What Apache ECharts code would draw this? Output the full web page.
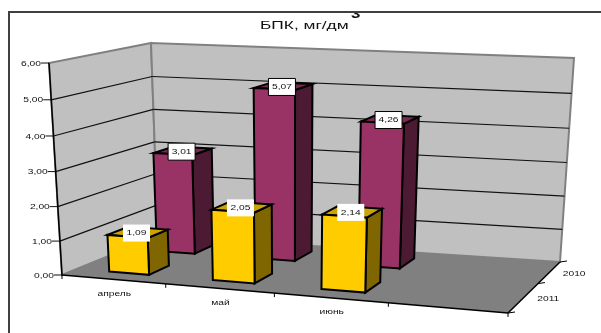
<!DOCTYPE html>
<html>
<head>
<meta charset="utf-8">
<style>html,body{margin:0;padding:0;background:#fff}#chart{width:601px;height:333px}</style>
<script src="https://cdn.jsdelivr.net/npm/echarts@6/dist/echarts.min.js"></script>
</head>
<body>
<div id="chart"></div>
<script>
// BOD by month for two years, drawn as a 3D column chart
const categories = ['апрель', 'май', 'июнь', ''];
const years = ['2011', '2010'];
const values2011 = [1.09, 2.05, 2.14];
const values2010 = [3.01, 5.07, 4.26];
const valueTicks = [0, 1, 2, 3, 4, 5, 6];
const titleText = 'БПК, мг/дм';
const titleSup = '3';

// Corners of the plot box: [x|y|depth] -> canvas position
const box = {
  fbl: [62, 275], fbr: [508, 313], bbl: [158, 236], bbr: [560, 262],
  ftl: [49, 63],  ftr: [521, 89],  btl: [151, 43],  btr: [574, 58]
};
// Perspective foreshortening along each axis
const warp = (u, k) => u / (1 + k * (1 - u));
const KX = 0.1, KY = 0.05, KZ = -0.267;
const mix = (a, b, t) => [a[0] + (b[0] - a[0]) * t, a[1] + (b[1] - a[1]) * t];

function project(u, w, z) {
  const a = warp(u, KX), b = warp(w, KY), c = warp(z, KZ);
  const bottom = mix(mix(box.fbl, box.fbr, a), mix(box.bbl, box.bbr, a), c);
  const top = mix(mix(box.ftl, box.ftr, a), mix(box.btl, box.btr, a), c);
  return mix(bottom, top, b);
}
// Reads the axis scales: the grid fills the canvas, so pixels normalise directly
function scaled(api, x, v) {
  const p = api.coord([x, v]);
  return [p[0] / api.getWidth(), 1 - p[1] / api.getHeight()];
}

const ROW = [{ z0: 0.12, z1: 0.31 }, { z0: 0.60, z1: 0.85 }];
const COLORS = [
  { front: '#FFCC00', side: '#806600', top: '#CCA300' },
  { front: '#993366', side: '#4D1A33', top: '#7A2952' }
];
const BAR_CENTRE = 0.515;
const BAR_HALF = 0.195;
const AXIS_FONT = '8px "Liberation Sans"';
const TEXT_STRETCH = 1.28;
const INK = '#000';

function poly(points, fill, stroke, lineWidth) {
  return {
    type: 'polygon',
    shape: { points },
    style: { fill, stroke: stroke || null, lineWidth: lineWidth || 0, lineJoin: 'miter' }
  };
}
function line(a, b, stroke, lineWidth) {
  return {
    type: 'line',
    shape: { x1: a[0], y1: a[1], x2: b[0], y2: b[1] },
    style: { stroke, lineWidth }
  };
}
function label(text, x, y, textAlign) {
  return {
    type: 'text',
    x, y,
    scaleX: TEXT_STRETCH,
    style: { text, textAlign, textVerticalAlign: 'middle', font: AXIS_FONT, fill: '#111' }
  };
}

// Walls, floor, gridlines, ticks and axis labels
function renderFrame(params, api) {
  const maxX = categories.length;
  const p = (x, v, z) => {
    const s = scaled(api, x, v);
    return project(s[0], s[1], z);
  };
  const children = [];
  children.push(poly([p(0, 0, 0), p(maxX, 0, 0), p(maxX, 0, 1), p(0, 0, 1)], '#808080'));
  children.push(poly([p(0, 0, 0), p(0, 0, 1), p(0, 6, 1), p(0, 6, 0)], '#C0C0C0', '#808080', 2));
  children.push(poly([p(0, 0, 1), p(maxX, 0, 1), p(maxX, 6, 1), p(0, 6, 1)], '#C0C0C0', '#808080', 2));
  valueTicks.forEach(v => {
    if (v > 0 && v < 6) {
      children.push(line(p(0, v, 0), p(0, v, 1), '#111', 1.2));
      children.push(line(p(0, v, 1), p(maxX, v, 1), '#111', 1.2));
    }
    const a = p(0, v, 0);
    children.push(line([a[0] - 8, a[1]], a, '#111', 1));
    children.push(label(v.toFixed(2).replace('.', ','), a[0] - 8, a[1] + 0.5, 'right'));
  });
  children.push(line(p(0, 0, 0), p(0, 6, 0), INK, 1.5));
  children.push(line(p(0, 0, 0), p(maxX, 0, 0), INK, 1.5));
  children.push(line(p(maxX, 0, 0), p(maxX, 0, 1), INK, 1.5));
  for (let i = 0; i <= maxX; i++) {
    const a = p(i, 0, 0);
    children.push(line(a, [a[0], a[1] + 4], INK, 1));
    if (categories[i]) {
      const c = p(i + 0.5, 0, 0);
      children.push(label(categories[i], c[0] + 1, c[1] + 14, 'center'));
    }
  }
  [0, 0.5, 1].forEach(z => {
    const a = p(maxX, 0, z);
    children.push(line(a, [a[0] + 7, a[1] - 1], INK, 1));
  });
  years.forEach((y, i) => {
    const a = p(maxX, 0, (i + 0.5) / 2);
    children.push(label(y, a[0] + 13, a[1] + 2, 'left'));
  });
  return { type: 'group', children };
}

// One 3D column: front face, top and right side
function renderBar(params, api) {
  const x = api.value(0), v = api.value(1), row = ROW[api.value(2)], col = COLORS[api.value(2)];
  const corner = (dx, val, z) => {
    const s = scaled(api, x + BAR_CENTRE + dx * BAR_HALF, val);
    return project(s[0], s[1], z);
  };
  const fl0 = corner(-1, 0, row.z0), fr0 = corner(1, 0, row.z0), br0 = corner(1, 0, row.z1);
  const fl1 = corner(-1, v, row.z0), fr1 = corner(1, v, row.z0), br1 = corner(1, v, row.z1), bl1 = corner(-1, v, row.z1);
  return {
    type: 'group',
    children: [
      poly([fr0, br0, br1, fr1], col.side, INK, 2),
      poly([fl1, fr1, br1, bl1], col.top, INK, 2),
      poly([fl0, fr0, fr1, fl1], col.front, INK, 2)
    ]
  };
}

// Value box centred on the top of a column
function renderValue(params, api) {
  const x = api.value(0), v = api.value(1), r = api.value(2), row = ROW[r];
  const s = scaled(api, x + 0.5, v);
  const c = project(s[0], s[1], (row.z0 + row.z1) / 2);
  const w = 27, h = 17;
  return {
    type: 'group',
    children: [
      {
        type: 'rect',
        shape: { x: c[0] - w / 2, y: c[1] - h / 2 + 1, width: w, height: h },
        style: { fill: '#fff', stroke: r === 1 ? INK : null, lineWidth: r === 1 ? 1 : 0 }
      },
      label(v.toFixed(2).replace('.', ','), c[0], c[1] + 1, 'center')
    ]
  };
}

const rows2011 = values2011.map((v, i) => [i, v, 0]);
const rows2010 = values2010.map((v, i) => [i, v, 1]);

const chart = echarts.init(document.getElementById('chart'), null, { renderer: 'canvas' });
chart.setOption({
  animation: false,
  backgroundColor: '#fff',
  grid: { left: 0, right: 0, top: 0, bottom: 0 },
  xAxis: { type: 'value', min: 0, max: categories.length, show: false },
  yAxis: { type: 'value', min: 0, max: 6, show: false },
  graphic: [
    {
      type: 'text', z: 1, x: 260, y: 26.5, scaleX: 1.65,
      style: { text: titleText, textVerticalAlign: 'middle', font: '10.5px "Liberation Sans"', fill: '#111' }
    },
    {
      type: 'text', z: 1, x: 351, y: 14.5, scaleX: 1.3,
      style: { text: titleSup, textVerticalAlign: 'middle', font: 'bold 13px "Liberation Sans"', fill: '#111' }
    },
    // The frame trims the tall superscript along its top edge
    {
      type: 'rect', z: 2,
      shape: { x: 0, y: 0, width: 601, height: 11 },
      style: { fill: '#fff' }
    },
    {
      type: 'rect', z: 2,
      shape: { x: 9, y: 12, width: 620, height: 340 },
      style: { fill: null, stroke: '#404040', lineWidth: 2 }
    }
  ],
  series: [
    { type: 'custom', z: 2, silent: true, renderItem: renderFrame, data: [[0, 0]], clip: false },
    { type: 'custom', z: 3, silent: true, renderItem: renderBar, data: rows2010, clip: false },
    { type: 'custom', z: 4, silent: true, renderItem: renderBar, data: rows2011, clip: false },
    { type: 'custom', z: 5, silent: true, renderItem: renderValue, data: rows2010.concat(rows2011), clip: false }
  ]
});
</script>
</body>
</html>
